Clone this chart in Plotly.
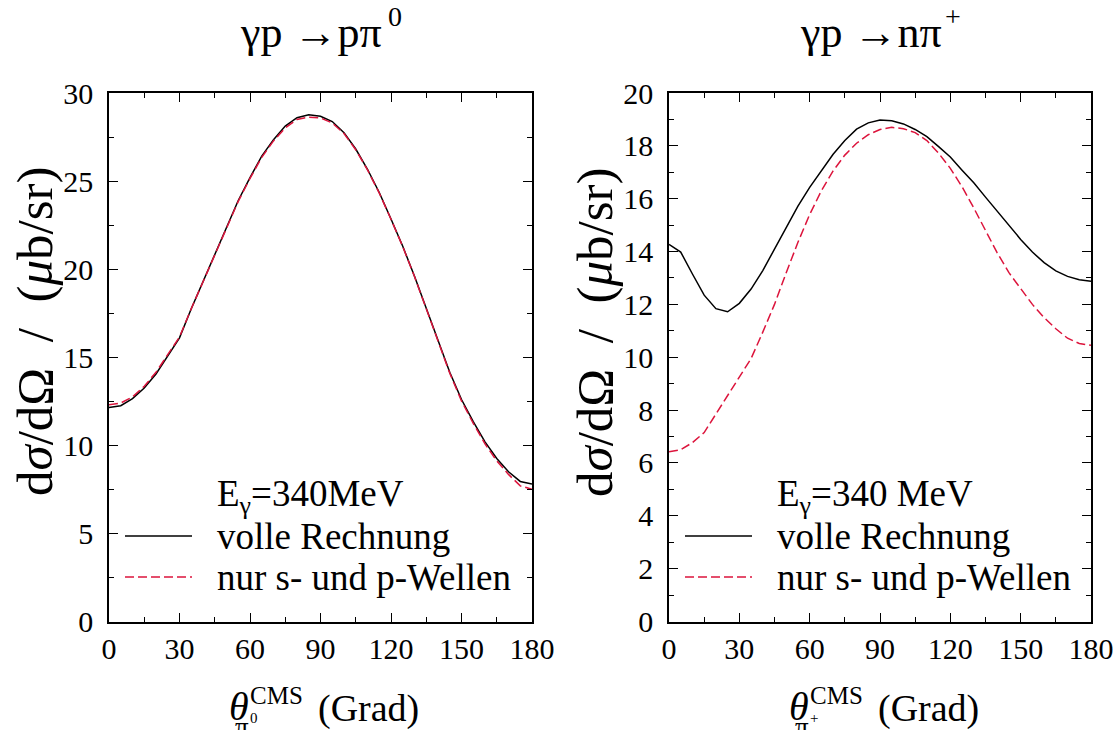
import plotly.graph_objects as go

# ---------------- data ----------------
theta = list(range(0, 181, 5))

# gamma p -> p pi0  (left panel)
pi0_full = [12.15, 12.25, 12.65, 13.25, 14.05, 15.1, 16.1, 17.75, 19.3, 20.85,
            22.45, 23.9, 25.2, 26.42, 27.35, 28.12, 28.6, 28.76, 28.68, 28.38,
            27.75, 26.82, 25.67, 24.35, 22.85, 21.3, 19.6, 17.8, 15.95, 14.15,
            12.6, 11.35, 10.2, 9.25, 8.5, 7.95, 7.8]
pi0_sp = [12.3, 12.4, 12.75, 13.35, 14.15, 15.15, 16.15, 17.75, 19.3, 20.85,
          22.4, 23.85, 25.15, 26.35, 27.28, 28.02, 28.5, 28.63, 28.58, 28.3,
          27.7, 26.78, 25.63, 24.32, 22.83, 21.28, 19.58, 17.78, 15.92, 14.1,
          12.52, 11.25, 10.08, 9.12, 8.35, 7.7, 7.5]

# gamma p -> n pi+  (right panel)
pip_full = [14.27, 13.98, 13.15, 12.35, 11.84, 11.72, 12.04, 12.58, 13.28, 14.1,
            14.92, 15.72, 16.43, 17.07, 17.68, 18.2, 18.63, 18.87, 18.98, 18.95,
            18.83, 18.62, 18.35, 17.97, 17.58, 17.08, 16.6, 16.06, 15.52, 14.98,
            14.46, 13.98, 13.58, 13.27, 13.06, 12.93, 12.88]
pip_sp = [6.42, 6.5, 6.77, 7.15, 7.85, 8.55, 9.2, 9.95, 10.95, 12.0,
          13.2, 14.35, 15.4, 16.3, 17.05, 17.65, 18.1, 18.42, 18.62, 18.7,
          18.65, 18.5, 18.2, 17.72, 17.15, 16.45, 15.65, 14.78, 13.95, 13.2,
          12.6, 12.0, 11.5, 11.08, 10.72, 10.52, 10.45]

x_ticks = [0, 30, 60, 90, 120, 150, 180]
name_full = "volle Rechnung"
name_sp = "nur s- und p-Wellen"

# ---------------- figure ----------------
W, H = 1119, 730
FONT = "Liberation Serif"
BLACK = "#000000"
RED = "#DC143C"


def px(x):
    return x / W


def py(y):
    return 1 - y / H


fig = go.Figure()
fig.add_trace(go.Scatter(x=theta, y=pi0_full, mode="lines", name=name_full,
                         line=dict(color=BLACK, width=1.5), xaxis="x", yaxis="y",
                         showlegend=False))
fig.add_trace(go.Scatter(x=theta, y=pi0_sp, mode="lines", name=name_sp,
                         line=dict(color=RED, width=1.5, dash="9px,4px"), xaxis="x", yaxis="y",
                         showlegend=False))
fig.add_trace(go.Scatter(x=theta, y=pip_full, mode="lines", name=name_full,
                         line=dict(color=BLACK, width=1.5), xaxis="x2", yaxis="y2",
                         showlegend=False))
fig.add_trace(go.Scatter(x=theta, y=pip_sp, mode="lines", name=name_sp,
                         line=dict(color=RED, width=1.5, dash="9px,4px"), xaxis="x2", yaxis="y2",
                         showlegend=False))

axis_common = dict(showline=True, linecolor=BLACK, linewidth=1.5, mirror="allticks",
                   ticks="inside", ticklen=9, tickwidth=1.2, tickcolor=BLACK,
                   showgrid=False, zeroline=False, automargin=False,
                   tickfont=dict(family=FONT, size=30, color=BLACK))

yt, yb = 93, 621.5
fig.update_layout(
    template="none",
    width=W, height=H,
    margin=dict(l=0, r=0, t=0, b=0, pad=0),
    paper_bgcolor="white", plot_bgcolor="white",
    xaxis=dict(domain=[px(109), px(532)], range=[0, 180], tickvals=x_ticks,
               minor=dict(dtick=15, ticks="inside", ticklen=5, tickcolor=BLACK),
               anchor="y", ticklabelstandoff=0, **axis_common),
    yaxis=dict(domain=[py(yb), py(yt)], range=[0, 30], dtick=5,
               minor=dict(dtick=2.5, ticks="inside", ticklen=5, tickcolor=BLACK),
               anchor="x", ticklabelstandoff=8, **axis_common),
    xaxis2=dict(domain=[px(669), px(1091)], range=[0, 180], tickvals=x_ticks,
                minor=dict(dtick=15, ticks="inside", ticklen=5, tickcolor=BLACK),
                anchor="y2", ticklabelstandoff=0, **axis_common),
    yaxis2=dict(domain=[py(yb), py(yt)], range=[0, 20], dtick=2,
                minor=dict(dtick=1, ticks="inside", ticklen=5, tickcolor=BLACK),
                anchor="x2", ticklabelstandoff=8, **axis_common),
)

ann = []


def text(x, y, s, size, xanchor="left", angle=0):
    ann.append(dict(x=px(x), y=py(y), xref="paper", yref="paper", text=s,
                    showarrow=False, xanchor=xanchor, yanchor="middle", textangle=angle,
                    borderpad=0, font=dict(family=FONT, size=size, color=BLACK)))


# titles
text(383, 33, "γp →pπ", 44, "right")
text(387, 16, "0", 28, "left")
text(943, 33, "γp →nπ", 44, "right")
text(944, 16, "+", 28, "left")

# y titles
ytitle = "d<i>σ</i>/dΩ  /  (<i>μ</i>b/sr)"
text(35, 332, ytitle, 51, "center", -90)
text(595, 332, ytitle, 51, "center", -90)

# x titles
for x0, sup in ((228, "0"), (788, "+")):
    text(x0, 706, "<i>θ</i>", 40, "left")
    text(x0 + 6, 727, "π", 27, "left")
    text(x0 + 21, 718, sup, 15, "left")
    text(x0 + 21, 695, "CMS", 25, "left")
    text(x0 + 89, 708, "(Grad)", 38, "left")

# legends
for xl, ylab in ((109, "E<sub>γ</sub>=340MeV"), (669, "E<sub>γ</sub>=340 MeV")):
    text(xl + 107, 496, ylab, 37, "left")
    text(xl + 107, 536, name_full, 37, "left")
    text(xl + 107, 577, name_sp, 37, "left")

fig.update_layout(annotations=ann)

shapes = []
for xl in (109, 669):
    shapes.append(dict(type="line", xref="paper", yref="paper",
                       x0=px(xl + 16), x1=px(xl + 83), y0=py(536), y1=py(536),
                       line=dict(color=BLACK, width=1.5)))
    shapes.append(dict(type="line", xref="paper", yref="paper",
                       x0=px(xl + 16), x1=px(xl + 83), y0=py(577), y1=py(577),
                       line=dict(color=RED, width=1.5, dash="9px,4px")))
fig.update_layout(shapes=shapes)

fig.write_html("out.html", config={"displayModeBar": False},
               post_script="document.body.style.margin='0';document.body.style.overflow='hidden';")
